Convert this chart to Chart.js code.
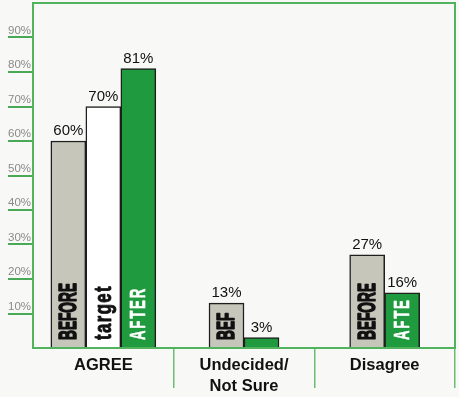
<!DOCTYPE html>
<html>
<head>
<meta charset="utf-8">
<script src="https://cdn.jsdelivr.net/npm/chart.js@4.4.1/dist/chart.umd.min.js"></script>
<style>
  html, body { margin: 0; padding: 0; background: #f8f8f6; }
  #wrap { width: 459px; height: 397px; position: relative; }
</style>
</head>
<body>
<div id="wrap"><canvas id="chart"></canvas></div>
<script>
// data
const categories = [["AGREE"], ["Undecided/", "Not Sure"], ["Disagree"]];
const seriesNames = ["BEFORE", "target", "AFTER"];
const beforeValues = [60, 13, 27];
const targetValues = [70, null, null];
const afterValues = [81, 3, 16];
const yTicks = [10, 20, 30, 40, 50, 60, 70, 80, 90];

const GREEN_FRAME = "#52b35e";
const GREEN_BAR = "#1f9a3e";
const GREY_BAR = "#c6c6ba";

// how the vertical words inside the bars look
const insideColors = ["#111111", "#111111", "#ffffff"];
const insideLengths = [57, 55, 53];
const insideSizes = [24, 24, 22];
const insideSpacing = ["0px", "2px", "3px"];
const insideStroke = [1.6, 0.9, 0.6];

const frame = {
  id: "frame",
  afterDatasetsDraw(chart) {
    const { ctx, chartArea: a } = chart;
    ctx.save();
    ctx.strokeStyle = GREEN_FRAME;
    ctx.lineWidth = 2;
    ctx.strokeRect(a.left, a.top, a.right - a.left, a.bottom - a.top);
    ctx.restore();
  }
};

const barText = {
  id: "barText",
  afterDatasetsDraw(chart) {
    const ctx = chart.ctx;
    chart.data.datasets.forEach((ds, di) => {
      const meta = chart.getDatasetMeta(di);
      meta.data.forEach((bar, i) => {
        const v = ds.data[i];
        if (v === null) return;
        const { x, y, base, width } = bar.getProps(["x", "y", "base", "width"], true);

        // value above the bar
        ctx.save();
        ctx.font = '15px "Liberation Sans", Arial, sans-serif';
        ctx.fillStyle = "#111";
        ctx.textAlign = "center";
        ctx.textBaseline = "alphabetic";
        ctx.fillText(v + "%", x, y - 6);
        ctx.restore();

        // series name written up the bar
        ctx.save();
        ctx.font = 'bold ' + insideSizes[di] + 'px "Liberation Sans", Arial, sans-serif';
        ctx.letterSpacing = insideSpacing[di];
        const full = seriesNames[di];
        const stretch = insideLengths[di] / ctx.measureText(full).width;
        const room = (base - y) - 12;
        let txt = full;
        while (txt.length && ctx.measureText(txt).width * stretch > room) txt = txt.slice(0, -1);
        if (txt.length) {
          ctx.beginPath();
          ctx.rect(x - width / 2, y, width, base - y);
          ctx.clip();
          ctx.translate(x + 1, base - 8);
          ctx.rotate(-Math.PI / 2);
          ctx.scale(stretch, 1);
          ctx.fillStyle = insideColors[di];
          ctx.strokeStyle = insideColors[di];
          ctx.lineWidth = insideStroke[di];
          ctx.lineJoin = "round";
          ctx.textAlign = "left";
          ctx.textBaseline = "middle";
          ctx.fillText(txt, 0, 0);
          ctx.strokeText(txt, 0, 0);
        }
        ctx.restore();
      });
    });
  }
};

const barOpts = {
  borderColor: "#1e1e1e",
  borderWidth: 1.5,
  borderSkipped: "bottom",
  barThickness: 35,
  skipNull: true
};

new Chart(document.getElementById("chart"), {
  type: "bar",
  data: {
    labels: categories,
    datasets: [
      { label: seriesNames[0], data: beforeValues, backgroundColor: GREY_BAR, ...barOpts },
      { label: seriesNames[1], data: targetValues, backgroundColor: "#ffffff", ...barOpts },
      { label: seriesNames[2], data: afterValues, backgroundColor: GREEN_BAR, ...barOpts }
    ]
  },
  options: {
    responsive: true,
    maintainAspectRatio: false,
    animation: false,
    layout: { padding: { left: 8, top: 3, right: 4, bottom: 0 } },
    plugins: { legend: { display: false }, tooltip: { enabled: false } },
    scales: {
      x: {
        grid: {
          offset: true,
          drawOnChartArea: false,
          tickLength: 40,
          lineWidth: 1.5,
          color: (c) => (c.index === 0 ? "rgba(0,0,0,0)" : "#6cbc72")
        },
        border: { display: false },
        ticks: {
          padding: -33,
          maxRotation: 0,
          autoSkip: false,
          color: "#111",
          font: { family: '"Liberation Sans", Arial, sans-serif', size: 16.5, weight: "bold", lineHeight: 1.27 }
        },
        afterFit: (s) => { s.height = 49; s.paddingLeft = 0; s.paddingRight = 0; }
      },
      y: {
        min: 0,
        max: 100,
        afterBuildTicks: (s) => { s.ticks = yTicks.map((v) => ({ value: v })); },
        grid: { drawOnChartArea: false, tickLength: 25, lineWidth: 2, color: "#4aa957" },
        border: { display: false },
        ticks: {
          crossAlign: "far",
          labelOffset: -7,
          padding: 0,
          color: "#8a8a8a",
          font: { family: '"Liberation Sans", Arial, sans-serif', size: 11.5 },
          callback: (v) => v + "%"
        },
        afterFit: (s) => { s.width = 25; s.paddingTop = 0; s.paddingBottom = 0; }
      }
    }
  },
  plugins: [barText, frame]
});
</script>
</body>
</html>
